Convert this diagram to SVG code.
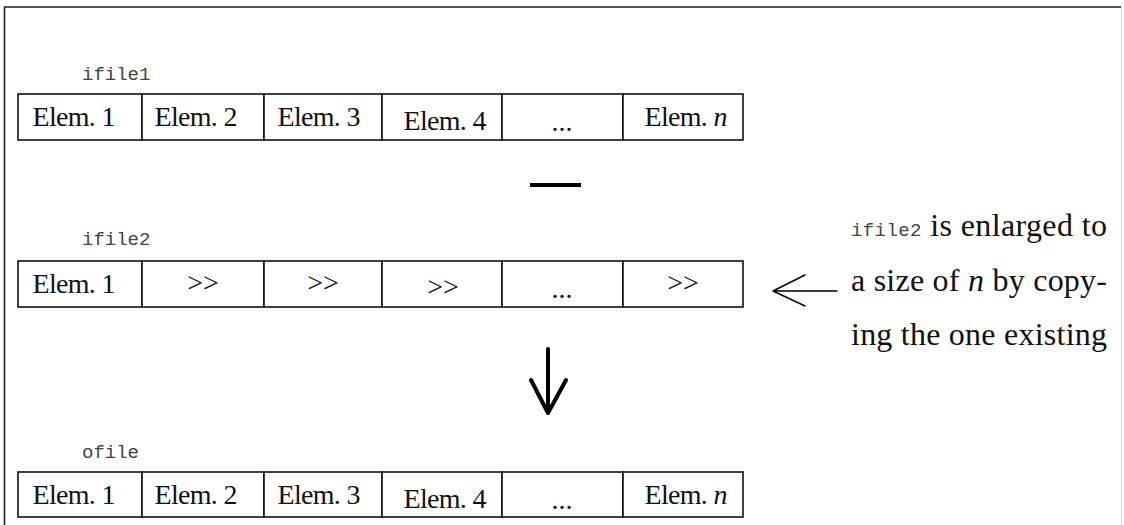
<svg xmlns="http://www.w3.org/2000/svg" width="1124" height="525" viewBox="0 0 1124 525">
  <style>
    .cell { fill: #fff; stroke: #111; stroke-width: 1.6; }
    .t { font-family: "Liberation Serif", "Times New Roman", serif; font-size: 28px; fill: #111; text-anchor: middle; }
    .lbl { font-family: "Liberation Mono", "Courier New", monospace; font-size: 19px; fill: #444; }
    .note { font-family: "Liberation Serif", "Times New Roman", serif; font-size: 32px; fill: #111; }
    .mono { font-family: "Liberation Mono", "Courier New", monospace; font-size: 19px; fill: #444; }
  </style>

  <!-- outer frame -->
  <rect x="0" y="0" width="1124" height="525" fill="#fff"/>
  <path d="M4.5 525 V7 H1121" fill="none" stroke="#222" stroke-width="1.6"/>
  <line x1="1121.5" y1="7" x2="1121.5" y2="525" stroke="#ddd" stroke-width="1"/>

  <!-- first input array -->
  <g id="ifile1">
    <text class="lbl" x="82" y="80">ifile1</text>
    <rect class="cell" x="18" y="94" width="124" height="46"/>
    <rect class="cell" x="142" y="94" width="122" height="46"/>
    <rect class="cell" x="264" y="94" width="118" height="46"/>
    <rect class="cell" x="382" y="94" width="120" height="46"/>
    <rect class="cell" x="502" y="94" width="121" height="46"/>
    <rect class="cell" x="623" y="94" width="120" height="46"/>
    <text class="t" x="74" y="126" textLength="83">Elem. 1</text>
    <text class="t" x="196" y="126" textLength="83">Elem. 2</text>
    <text class="t" x="319" y="126" textLength="83">Elem. 3</text>
    <text class="t" x="445" y="130" textLength="83">Elem. 4</text>
    <text class="t" x="562" y="131">...</text>
    <text class="t" x="686" y="126" textLength="83">Elem. <tspan font-style="italic">n</tspan></text>
  </g>

  <!-- minus operator -->
  <g id="minus">
    <rect x="530" y="183" width="51" height="4" fill="#000"/>
  </g>

  <!-- second input array -->
  <g id="ifile2">
    <text class="lbl" x="82" y="245">ifile2</text>
    <rect class="cell" x="18" y="261" width="124" height="46"/>
    <rect class="cell" x="142" y="261" width="122" height="46"/>
    <rect class="cell" x="264" y="261" width="118" height="46"/>
    <rect class="cell" x="382" y="261" width="120" height="46"/>
    <rect class="cell" x="502" y="261" width="121" height="46"/>
    <rect class="cell" x="623" y="261" width="120" height="46"/>
    <text class="t" x="74" y="293" textLength="83">Elem. 1</text>
    <text class="t" x="203" y="292">&gt;&gt;</text>
    <text class="t" x="323" y="292">&gt;&gt;</text>
    <text class="t" x="443" y="296">&gt;&gt;</text>
    <text class="t" x="562" y="298">...</text>
    <text class="t" x="683" y="292">&gt;&gt;</text>
  </g>

  <!-- explanatory note -->
  <g id="note">
    <text class="note" x="851" y="236" textLength="256" lengthAdjust="spacing"><tspan class="mono">ifile2</tspan> is enlarged to</text>
    <text class="note" x="851" y="291" textLength="256" lengthAdjust="spacing">a size of <tspan font-style="italic">n</tspan> by copy-</text>
    <text class="note" x="851" y="345" textLength="256" lengthAdjust="spacing">ing the one existing</text>
  </g>

  <!-- output array -->
  <g id="ofile">
    <text class="lbl" x="82" y="458">ofile</text>
    <rect class="cell" x="18" y="472" width="124" height="45"/>
    <rect class="cell" x="142" y="472" width="122" height="45"/>
    <rect class="cell" x="264" y="472" width="118" height="45"/>
    <rect class="cell" x="382" y="472" width="120" height="45"/>
    <rect class="cell" x="502" y="472" width="121" height="45"/>
    <rect class="cell" x="623" y="472" width="120" height="45"/>
    <text class="t" x="74" y="504" textLength="83">Elem. 1</text>
    <text class="t" x="196" y="504" textLength="83">Elem. 2</text>
    <text class="t" x="319" y="504" textLength="83">Elem. 3</text>
    <text class="t" x="445" y="508" textLength="83">Elem. 4</text>
    <text class="t" x="562" y="509">...</text>
    <text class="t" x="686" y="504" textLength="83">Elem. <tspan font-style="italic">n</tspan></text>
  </g>

  <!-- connectors -->
  <g id="connectors" fill="none" stroke="#000" stroke-linecap="round" stroke-linejoin="round">
    <path d="M837 291 H773 M805 275 L773 291 L805 306" stroke-width="1.4"/>
    <path d="M548 349 V413 M531 380 L548 413 L566 380" stroke-width="4"/>
  </g>
</svg>
